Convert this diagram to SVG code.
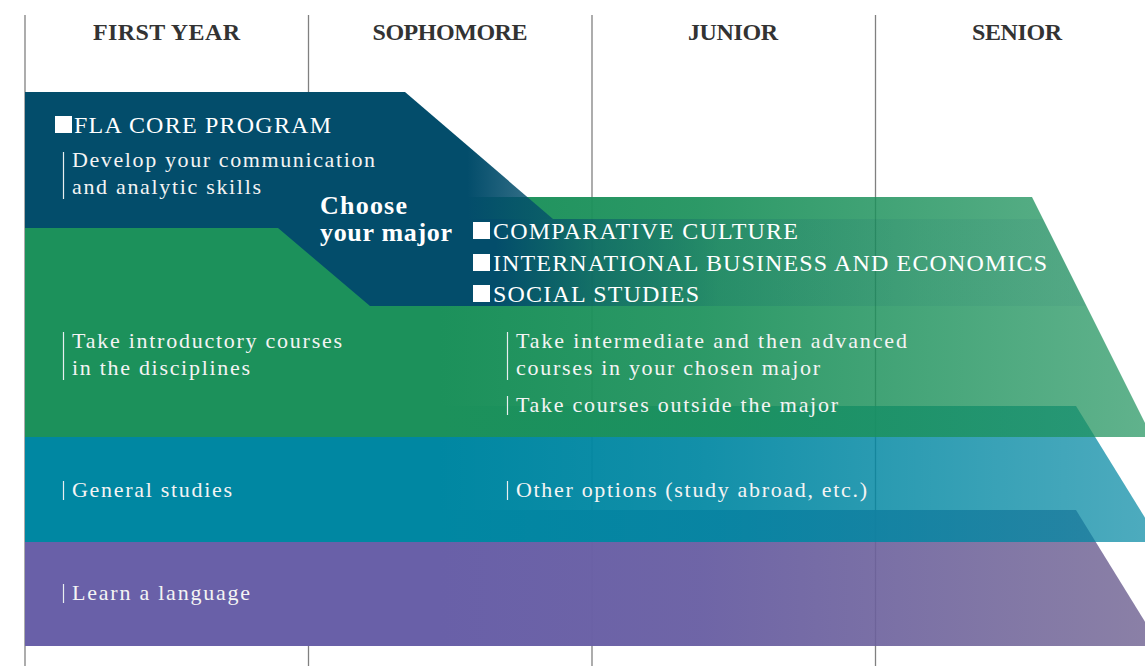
<svg xmlns="http://www.w3.org/2000/svg" width="1145" height="666" viewBox="0 0 1145 666">
  <style>
    .hdr { font-family: "Liberation Serif", "Times New Roman", serif; font-weight: bold; font-size: 24px; fill: #333333; text-anchor: middle; }
    .cap { font-family: "Liberation Serif", "Times New Roman", serif; font-size: 24px; fill: #ffffff; }
    .body { font-family: "Liberation Serif", "Times New Roman", serif; font-size: 22px; fill: #f4f4f4; }
    .choose { font-family: "Liberation Serif", "Times New Roman", serif; font-weight: bold; font-size: 26px; fill: #ffffff; }
    .grid { stroke: #808080; stroke-width: 1.3; fill: none; }
    .bar { stroke: #e8eef0; stroke-width: 1.2; fill: none; }
    .sq { fill: #ffffff; }
  </style>
  <defs>
    <linearGradient id="gPurple" gradientUnits="userSpaceOnUse" x1="25" y1="0" x2="1145" y2="0">
      <stop offset="0" stop-color="#6960a8" stop-opacity="1"/>
      <stop offset="0.37" stop-color="#6960a8" stop-opacity="1"/>
      <stop offset="0.6" stop-color="#6a60a4" stop-opacity="0.97"/>
      <stop offset="1" stop-color="#6d6090" stop-opacity="0.8"/>
    </linearGradient>
    <linearGradient id="gTeal" gradientUnits="userSpaceOnUse" x1="25" y1="0" x2="1145" y2="0">
      <stop offset="0" stop-color="#0087a2" stop-opacity="1"/>
      <stop offset="0.37" stop-color="#0087a2" stop-opacity="1"/>
      <stop offset="0.6" stop-color="#0087a2" stop-opacity="0.93"/>
      <stop offset="1" stop-color="#0087a2" stop-opacity="0.7"/>
    </linearGradient>
    <linearGradient id="gGreen" gradientUnits="userSpaceOnUse" x1="25" y1="0" x2="1145" y2="0">
      <stop offset="0" stop-color="#1c915b" stop-opacity="1"/>
      <stop offset="0.37" stop-color="#1c915b" stop-opacity="1"/>
      <stop offset="0.6" stop-color="#1c915b" stop-opacity="0.93"/>
      <stop offset="1" stop-color="#1c915b" stop-opacity="0.7"/>
    </linearGradient>
    <linearGradient id="gNavyTop" gradientUnits="userSpaceOnUse" x1="25" y1="0" x2="1145" y2="0">
      <stop offset="0" stop-color="#034d6b" stop-opacity="1"/>
      <stop offset="0.395" stop-color="#034d6b" stop-opacity="1"/>
      <stop offset="0.47" stop-color="#034d6b" stop-opacity="0.75"/>
      <stop offset="1" stop-color="#034d6b" stop-opacity="0.7"/>
    </linearGradient>
    <linearGradient id="gNavyStrip" gradientUnits="userSpaceOnUse" x1="25" y1="0" x2="1145" y2="0">
      <stop offset="0" stop-color="#034d6b" stop-opacity="1"/>
      <stop offset="0.42" stop-color="#034d6b" stop-opacity="1"/>
      <stop offset="0.51" stop-color="#034d6b" stop-opacity="0.5"/>
      <stop offset="0.62" stop-color="#034d6b" stop-opacity="0.16"/>
      <stop offset="0.8" stop-color="#034d6b" stop-opacity="0.07"/>
      <stop offset="1" stop-color="#034d6b" stop-opacity="0.06"/>
    </linearGradient>
  </defs>

  <g id="grid">
    <line class="grid" x1="25" y1="15" x2="25" y2="666"/>
    <line class="grid" x1="308.5" y1="15" x2="308.5" y2="666"/>
    <line class="grid" x1="592" y1="15" x2="592" y2="666"/>
    <line class="grid" x1="875.5" y1="15" x2="875.5" y2="666"/>
  </g>

  <g id="headers">
    <text class="hdr" x="166.5" y="40" textLength="147">FIRST YEAR</text>
    <text class="hdr" x="450" y="40" textLength="155">SOPHOMORE</text>
    <text class="hdr" x="733" y="40" textLength="90">JUNIOR</text>
    <text class="hdr" x="1017" y="40" textLength="90">SENIOR</text>
  </g>

  <g id="band-language">
    <polygon points="25,510 1076,510 1160,646 25,646" fill="url(#gPurple)"/>
    <line class="bar" x1="63.5" y1="584" x2="63.5" y2="603"/>
    <text class="body" x="72" y="600" textLength="178">Learn a language</text>
  </g>

  <g id="band-general">
    <polygon points="25,406 1076,406 1160,542 25,542" fill="url(#gTeal)"/>
    <line class="bar" x1="63.5" y1="481" x2="63.5" y2="500"/>
    <text class="body" x="72" y="497" textLength="160">General studies</text>
    <line class="bar" x1="507.5" y1="481" x2="507.5" y2="500"/>
    <text class="body" x="516" y="497" textLength="351">Other options (study abroad, etc.)</text>
  </g>

  <g id="band-disciplines">
    <polygon points="25,197 1032,197 1152,437 25,437" fill="url(#gGreen)"/>
    <line class="bar" x1="63.5" y1="332" x2="63.5" y2="380"/>
    <text class="body" x="72" y="348" textLength="270">Take introductory courses</text>
    <text class="body" x="72" y="375" textLength="178">in the disciplines</text>
    <line class="bar" x1="507.5" y1="332" x2="507.5" y2="380"/>
    <text class="body" x="516" y="348" textLength="391">Take intermediate and then advanced</text>
    <text class="body" x="516" y="375" textLength="304">courses in your chosen major</text>
    <line class="bar" x1="507.5" y1="396" x2="507.5" y2="415"/>
    <text class="body" x="516" y="412" textLength="322">Take courses outside the major</text>
  </g>

  <g id="band-core">
    <polygon points="25,92 405,92 553,219 25,219" fill="url(#gNavyTop)"/>
    <polygon points="25,219 1043,219 1086,306 370,306 278,228 25,228" fill="url(#gNavyStrip)"/>
    <rect class="sq" x="55" y="116" width="17" height="17"/>
    <text class="cap" x="74" y="133" textLength="257">FLA CORE PROGRAM</text>
    <line class="bar" x1="63.5" y1="152" x2="63.5" y2="199"/>
    <text class="body" x="72" y="167" textLength="303">Develop your communication</text>
    <text class="body" x="72" y="194" textLength="189">and analytic skills</text>
  </g>

  <g id="choose-major">
    <text class="choose" x="320" y="214" textLength="87">Choose</text>
    <text class="choose" x="320" y="241" textLength="132">your major</text>
    <rect class="sq" x="473" y="222" width="17" height="17"/>
    <text class="cap" x="493" y="239" textLength="305">COMPARATIVE CULTURE</text>
    <rect class="sq" x="473" y="254" width="17" height="17"/>
    <text class="cap" x="493" y="271" textLength="554">INTERNATIONAL BUSINESS AND ECONOMICS</text>
    <rect class="sq" x="473" y="285" width="17" height="17"/>
    <text class="cap" x="493" y="302" textLength="206">SOCIAL STUDIES</text>
  </g>
</svg>
